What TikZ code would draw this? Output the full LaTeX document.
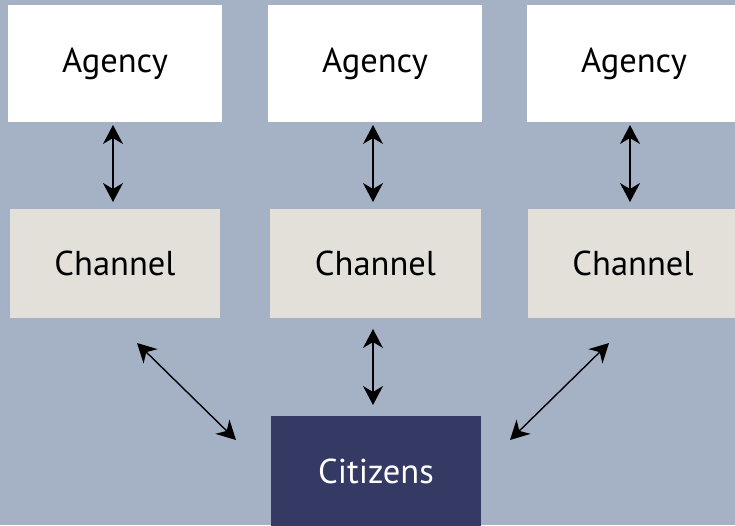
\documentclass[tikz,border=0pt]{standalone}
\usepackage{fontspec}
\setmainfont{PT Sans}
\usetikzlibrary{arrows.meta}
\definecolor{bgblue}{RGB}{165,177,197}
\definecolor{chanfill}{RGB}{227,224,218}
\definecolor{citfill}{RGB}{52,58,100}
\begin{document}
\begin{tikzpicture}[x=1pt,y=-1pt,
  boxfont/.style={font=\fontsize{34.5}{40}\selectfont},
  agencybox/.style={fill=white,inner sep=0pt,boxfont},
  channelbox/.style={fill=chanfill,inner sep=0pt,boxfont},
  citizenbox/.style={fill=citfill,inner sep=0pt},
  link/.style={line width=1.4pt,{Stealth[length=19pt,width=20pt,inset=6pt]}-{Stealth[length=19pt,width=20pt,inset=6pt]}}]
  % background
  \fill[bgblue] (0,0) rectangle (735,525);
  \useasboundingbox (0,0) rectangle (735,525);
  % agency boxes
  \node[agencybox,minimum width=214pt,minimum height=117pt] (a1) at (115,63.5) {Agency};
  \node[agencybox,minimum width=214pt,minimum height=117pt] (a2) at (375,63.5) {Agency};
  \node[agencybox,minimum width=214pt,minimum height=117pt] (a3) at (634,63.5) {Agency};
  % channel boxes
  \node[channelbox,minimum width=210pt,minimum height=109pt] (c1) at (115,263.5) {Channel};
  \node[channelbox,minimum width=211pt,minimum height=109pt] (c2) at (375.5,263.5) {Channel};
  \node[channelbox,minimum width=210pt,minimum height=109pt] (c3) at (633,263.5) {Channel};
  % citizens
  \node[citizenbox,minimum width=210pt,minimum height=118pt] (cz) at (376,475) {};
  \node[text=white,boxfont] (czt) at (376,471) {Citizens};
  % endpoints of the connectors
  \coordinate (a1b) at (113,125); \coordinate (c1t) at (113,202);
  \coordinate (a2b) at (373,125); \coordinate (c2t) at (373,202);
  \coordinate (a3b) at (630,125); \coordinate (c3t) at (630,202);
  \coordinate (c1b) at (137,343); \coordinate (czl) at (236,440);
  \coordinate (c2b) at (373,329); \coordinate (czt2) at (373,405);
  \coordinate (c3b) at (609,343); \coordinate (czr) at (510,440);
  % connectors
  \draw[link] (a1b) -- (c1t);
  \draw[link] (a2b) -- (c2t);
  \draw[link] (a3b) -- (c3t);
  \draw[link] (c1b) -- (czl);
  \draw[link] (c2b) -- (czt2);
  \draw[link] (c3b) -- (czr);
\end{tikzpicture}
\end{document}
